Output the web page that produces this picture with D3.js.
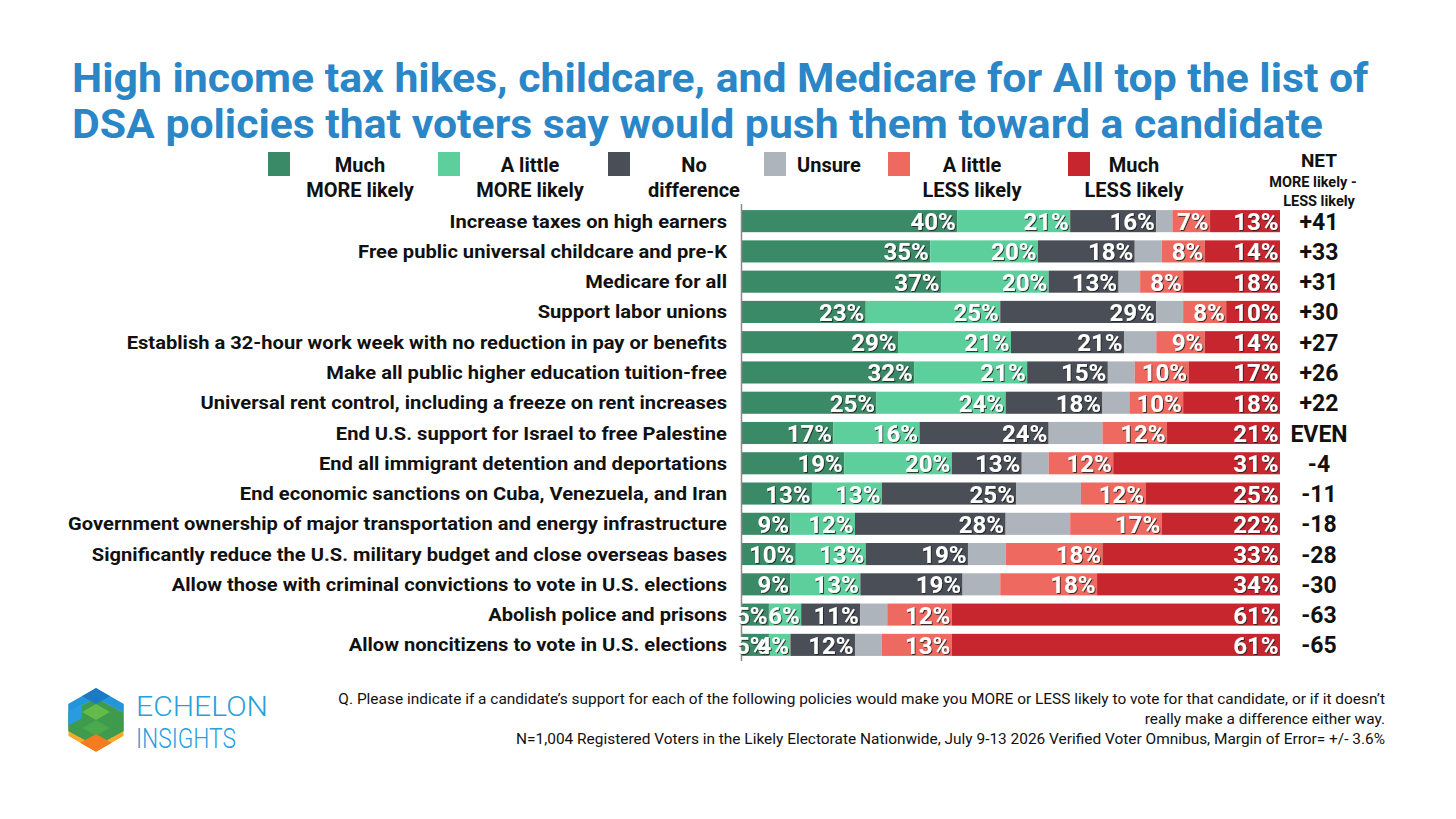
<!DOCTYPE html>
<html>
<head>
<meta charset="utf-8">
<script src="https://cdn.jsdelivr.net/npm/d3@7"></script>
<style>
body { margin: 0; background: #fff; }
text { font-family: Roboto, "Open Sans", sans-serif; }
</style>
</head>
<body>
<svg id="chart" width="1456" height="819"></svg>
<script>
// ---- data ----
let policies = [
	'Increase taxes on high earners',
	'Free public universal childcare and pre-K',
	'Medicare for all',
	'Support labor unions',
	'Establish a 32-hour work week with no reduction in pay or benefits',
	'Make all public higher education tuition-free',
	'Universal rent control, including a freeze on rent increases',
	'End U.S. support for Israel to free Palestine',
	'End all immigrant detention and deportations',
	'End economic sanctions on Cuba, Venezuela, and Iran',
	'Government ownership of major transportation and energy infrastructure',
	'Significantly reduce the U.S. military budget and close overseas bases',
	'Allow those with criminal convictions to vote in U.S. elections',
	'Abolish police and prisons',
	'Allow noncitizens to vote in U.S. elections'
]

let seriesKeys = ['muchMore', 'littleMore', 'noDiff', 'unsure', 'littleLess', 'muchLess']
let seriesLines = [['Much', 'MORE likely'], ['A little', 'MORE likely'], ['No', 'difference'], ['Unsure'], ['A little', 'LESS likely'], ['Much', 'LESS likely']]

let muchMore   = [40, 35, 37, 23, 29, 32, 25, 17, 19, 13,  9, 10,  9,  5,  5]
let littleMore = [21, 20, 20, 25, 21, 21, 24, 16, 20, 13, 12, 13, 13,  6,  4]
let noDiff     = [16, 18, 13, 29, 21, 15, 18, 24, 13, 25, 28, 19, 19, 11, 12]
// unsure is not labelled in the picture, widths estimated
let unsure     = [ 3,  5,  4,  5,  6,  5,  5, 10,  5, 12, 12,  7,  7,  5,  5]
let littleLess = [ 7,  8,  8,  8,  9, 10, 10, 12, 12, 12, 17, 18, 18, 12, 13]
let muchLess   = [13, 14, 18, 10, 14, 17, 18, 21, 31, 25, 22, 33, 34, 61, 61]

let netLabels = ['+41', '+33', '+31', '+30', '+27', '+26', '+22', 'EVEN', '-4', '-11', '-18', '-28', '-30', '-63', '-65']

let titleLines = [
	'High income tax hikes, childcare, and Medicare for All top the list of',
	'DSA policies that voters say would push them toward a candidate'
]
let footLines = [
	'Q. Please indicate if a candidate\u2019s support for each of the following policies would make you MORE or LESS likely to vote for that candidate, or if it doesn\u2019t',
	'really make a difference either way.',
	'N=1,004 Registered Voters in the Likely Electorate Nationwide, July 9-13 2026 Verified Voter Omnibus, Margin of Error= +/- 3.6%'
]

// ---- styles / layout ----
let colors = ['#3b8a67', '#5ccf9c', '#4a4e56', '#aeb4bc', '#ee6a61', '#c8262f']
let legendSquareX = [268, 438, 608, 764, 888, 1068]
let legendTextX = [360, 530, 694, 797, 972, 1134]

let table = policies.map((p, i) => ({
	policy: p,
	muchMore: muchMore[i],
	littleMore: littleMore[i],
	noDiff: noDiff[i],
	unsure: unsure[i],
	littleLess: littleLess[i],
	muchLess: muchLess[i],
	net: netLabels[i]
}))

let svg = d3.select('#chart')

svg.append('rect').attr('width', 1456).attr('height', 819).attr('fill', '#fff')

let defs = svg.append('defs')
let shadow = defs.append('filter').attr('id', 'shadow')
	.attr('x', '-20%').attr('y', '-20%').attr('width', '140%').attr('height', '140%')
shadow.append('feDropShadow')
	.attr('dx', 1).attr('dy', 1).attr('stdDeviation', 0.7)
	.attr('flood-color', '#1a1a1a').attr('flood-opacity', 0.85)

// helper: squeeze a text horizontally to a target width
function squeeze(sel, x, y, target) {
	let w = sel.node().getComputedTextLength()
	let s = target / w
	sel.attr('x', 0).attr('y', 0).attr('transform', `translate(${x},${y}) scale(${s},1)`)
	return s
}

// ---- title ----
let titleSize = 40
let t1 = svg.append('text').text(titleLines[0])
	.attr('font-size', titleSize).attr('font-weight', 700).attr('fill', '#2a86c6')
let titleScale = squeeze(t1, 72, 92, 1297)
svg.append('text').text(titleLines[1])
	.attr('font-size', titleSize).attr('font-weight', 700).attr('fill', '#2a86c6')
	.attr('transform', `translate(72,138) scale(${titleScale},1)`)

// ---- scales ----
let x = d3.scaleLinear().domain([0, 100]).range([742, 1280])
let y = d3.scaleBand().domain(policies).range([206, 660]).paddingInner(0.27).paddingOuter(0.135)

let stack = d3.stack().keys(seriesKeys)
let layers = stack(table)

// ---- bars ----
let barLayer = svg.append('g')
barLayer.selectAll('g')
	.data(layers)
	.enter()
	.append('g')
	.attr('fill', (d, i) => colors[i])
	.selectAll('rect')
	.data(d => d)
	.enter()
	.append('rect')
	.attr('x', d => x(d[0]))
	.attr('y', d => y(d.data.policy))
	.attr('width', d => x(d[1]) - x(d[0]))
	.attr('height', y.bandwidth())

// axis line
svg.append('line')
	.attr('x1', 741.5).attr('x2', 741.5)
	.attr('y1', 204).attr('y2', 661)
	.attr('stroke', '#8a8a8a').attr('stroke-width', 1.5)

// ---- value labels ----
let valueLayer = svg.append('g')
layers.forEach((layer, li) => {
	if (seriesKeys[li] === 'unsure') return
	valueLayer.selectAll(null)
		.data(layer)
		.enter()
		.append('text')
		.attr('x', d => x(d[1]) - 1.5)
		.attr('y', d => y(d.data.policy) + y.bandwidth() / 2 + 9)
		.attr('text-anchor', 'end')
		.attr('font-size', 24)
		.attr('font-weight', 700)
		.attr('fill', '#fff')
		.attr('filter', 'url(#shadow)')
		.text(d => (d[1] - d[0]) + '%')
})

// ---- category labels ----
let catLabels = svg.append('g')
	.selectAll('text')
	.data(policies)
	.enter()
	.append('text')
	.attr('text-anchor', 'end')
	.attr('font-size', 18.5)
	.attr('font-weight', 700)
	.attr('fill', '#111')
	.text(d => d)

let longest = d3.max(catLabels.nodes(), n => n.getComputedTextLength())
let catScale = 659 / longest
catLabels.attr('transform', d => `translate(727,${y(d) + y.bandwidth() / 2 + 6.5}) scale(${catScale},1)`)

// ---- net column ----
svg.append('g')
	.selectAll('text')
	.data(table)
	.enter()
	.append('text')
	.attr('x', 1319)
	.attr('y', d => y(d.policy) + y.bandwidth() / 2 + 8.5)
	.attr('text-anchor', 'middle')
	.attr('font-size', 23)
	.attr('font-weight', 700)
	.attr('fill', '#111')
	.text(d => d.net)

// ---- legend ----
let legend = svg.append('g')
seriesLines.forEach((lines, i) => {
	legend.append('rect')
		.attr('x', legendSquareX[i]).attr('y', 152)
		.attr('width', 22).attr('height', 24)
		.attr('fill', colors[i])
	lines.forEach((line, j) => {
		legend.append('text')
			.attr('x', legendTextX[i])
			.attr('y', 172 + j * 25)
			.attr('text-anchor', lines.length === 1 ? 'start' : 'middle')
			.attr('font-size', 20)
			.attr('font-weight', 700)
			.attr('fill', '#111')
			.text(line)
	})
})

legend.append('text').attr('x', 1319).attr('y', 167).attr('text-anchor', 'middle')
	.attr('font-size', 19).attr('font-weight', 700).attr('fill', '#111').text('NET')
legend.append('text').attr('x', 1313).attr('y', 187).attr('text-anchor', 'middle')
	.attr('font-size', 14.5).attr('font-weight', 700).attr('fill', '#111').text('MORE likely -')
legend.append('text').attr('x', 1319).attr('y', 205.5).attr('text-anchor', 'middle')
	.attr('font-size', 14.5).attr('font-weight', 700).attr('fill', '#111').text('LESS likely')

// ---- footnote ----
let foot = svg.append('g')
let f0 = foot.append('text').text(footLines[0]).attr('font-size', 14.5).attr('fill', '#111')
let footScale = 1047 / f0.node().getComputedTextLength()
footLines.forEach((line, i) => {
	let t = i === 0 ? f0 : foot.append('text').text(line).attr('font-size', 14.5).attr('fill', '#111')
	t.attr('text-anchor', 'end')
		.attr('transform', `translate(1385,${704 + i * 20}) scale(${footScale},1)`)
})

// ---- logo ----
let logo = svg.append('g')
let cx = 96, cy = 720, r = 32
let hex = d3.range(6).map(k => {
	let a = Math.PI / 3 * k - Math.PI / 2
	return [cx + r * Math.cos(a), cy + r * Math.sin(a)]
})
defs.append('clipPath').attr('id', 'hexclip')
	.append('polygon').attr('points', hex.join(' '))

let lg = logo.append('g').attr('clip-path', 'url(#hexclip)')
let poly = (pts, fill) => lg.append('polygon').attr('points', pts.map(p => [cx + p[0], cy + p[1]]).join(' ')).attr('fill', fill)

poly(hex.map(p => [p[0] - cx, p[1] - cy]), '#f6a92a')
poly([[-30, -6], [0, -22], [30, -6], [30, 10], [0, 26], [-30, 10]], '#3e9a4c')
poly([[-30, -40], [30, -40], [30, -6], [0, -22], [-30, -6]], '#2196dc')
poly([[0, -32], [14, -24], [0, -16], [-14, -24]], '#1a7bc4')
poly([[-28, -8], [-14, -16], [-14, -2], [-28, 6]], '#2a9be0')
poly([[0, -16], [14, -8], [0, 0], [-14, -8]], '#64bb4c')
poly([[0, 0], [14, 8], [0, 16], [-14, 8]], '#4aa84d')
poly([[-16, 23], [0, 14], [16, 23], [0, 32]], '#f47b20')

let e1 = logo.append('text').text('ECHELON')
	.attr('font-size', 27).attr('font-weight', 300).attr('fill', '#27a0de')
squeeze(e1, 136, 716, 132)
let e2 = logo.append('text').text('INSIGHTS')
	.attr('font-size', 27).attr('font-weight', 300).attr('fill', '#27a0de')
squeeze(e2, 136, 748, 100)
</script>
</body>
</html>
